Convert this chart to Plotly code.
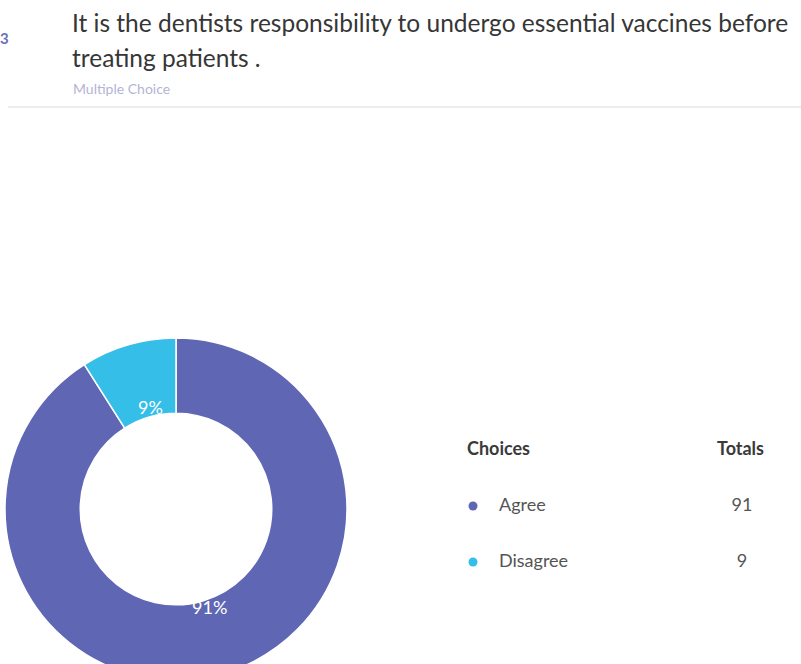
import math
import plotly.graph_objects as go

# ---- data ----
choices = ["Agree", "Disagree"]
totals = [91, 9]
colors = ["#5F67B4", "#35BEE8"]
question_no = "3"
question_lines = ["It is the dentists responsibility to undergo essential vaccines before",
                  "treating patients ."]
question_type = "Multiple Choice"
header_labels = ["Choices", "Totals"]

W, H = 801, 700
FONT = "Lato, 'Open Sans', sans-serif"

fig = go.Figure()

# donut
cx, cy, r = 176, 509, 171
fig.add_trace(go.Pie(
    labels=choices, values=totals,
    marker=dict(colors=colors, line=dict(color="white", width=1.5)),
    hole=0.56, sort=False, direction="clockwise", rotation=0,
    textinfo="none",
    domain=dict(x=[(cx - r) / W, (cx + r) / W], y=[(H - (cy + r)) / H, (H - (cy - r)) / H]),
    showlegend=False, hoverinfo="label+value+percent",
))

annotations = []
# percentage labels placed near the inner edge of each slice (computed from data)
total_sum = sum(totals)
cum = 0
label_r = 104
for v in totals:
    mid = (cum + v / 2) / total_sum * 2 * math.pi
    cum += v
    annotations.append(dict(
        x=cx + 4 + label_r * math.sin(mid), y=cy - 2 - label_r * math.cos(mid),
        text=f"{round(100 * v / total_sum)}%", xref="x", yref="y", showarrow=False,
        xanchor="center", yanchor="middle",
        font=dict(size=18, color="white", family=FONT)))

# table (on hidden pixel-like axes)
row_y = [506 + 56 * i for i in range(len(choices))]
fig.add_trace(go.Scatter(
    x=[473] * len(choices), y=row_y, mode="markers",
    marker=dict(color=colors, size=9), xaxis="x", yaxis="y",
    showlegend=False, hoverinfo="skip"))
fig.add_trace(go.Scatter(
    x=[499] * len(choices), y=row_y, mode="text", text=choices,
    textposition="middle right", textfont=dict(size=18, color="#555555", family=FONT),
    showlegend=False, hoverinfo="skip"))
fig.add_trace(go.Scatter(
    x=[742] * len(choices), y=row_y, mode="text", text=[str(t) for t in totals],
    textposition="middle center", textfont=dict(size=18, color="#555555", family=FONT),
    showlegend=False, hoverinfo="skip"))

annotations += [
    dict(x=465, y=448, text=header_labels[0], xanchor="left", yanchor="middle",
         font=dict(size=18, color="#3a3a3a", family=FONT, weight="bold"),
         xref="x", yref="y", showarrow=False),
    dict(x=740, y=448, text=header_labels[1], xanchor="center", yanchor="middle",
         font=dict(size=18, color="#3a3a3a", family=FONT, weight="bold"),
         xref="x", yref="y", showarrow=False),
    dict(x=0, y=1 - 38 / H, text=question_no, xanchor="left", yanchor="middle",
         font=dict(size=15, color="#6A6FB8", family=FONT, weight="bold"),
         xref="paper", yref="paper", showarrow=False, xshift=-2),
    dict(x=70, y=22, text=question_lines[0], xanchor="left", yanchor="middle",
         font=dict(size=24.5, color="#363636", family=FONT), xref="x", yref="y", showarrow=False),
    dict(x=70, y=57, text=question_lines[1], xanchor="left", yanchor="middle",
         font=dict(size=24.5, color="#363636", family=FONT), xref="x", yref="y", showarrow=False),
    dict(x=71, y=88, text=question_type, xanchor="left", yanchor="middle",
         font=dict(size=14, color="#B3B4D4", family=FONT), xref="x", yref="y", showarrow=False),
]

fig.update_layout(
    width=W, height=H, margin=dict(l=0, r=0, t=0, b=0),
    paper_bgcolor="white", plot_bgcolor="rgba(0,0,0,0)",
    xaxis=dict(range=[0, W], domain=[0, 1], visible=False, fixedrange=True),
    yaxis=dict(range=[H, 0], domain=[0, 1], visible=False, fixedrange=True),
    annotations=annotations,
    shapes=[dict(type="line", xref="x", yref="y", x0=8, x1=W, y0=107, y1=107,
                 line=dict(color="#ECECEC", width=2))],
)

fig.write_html("out.html")
